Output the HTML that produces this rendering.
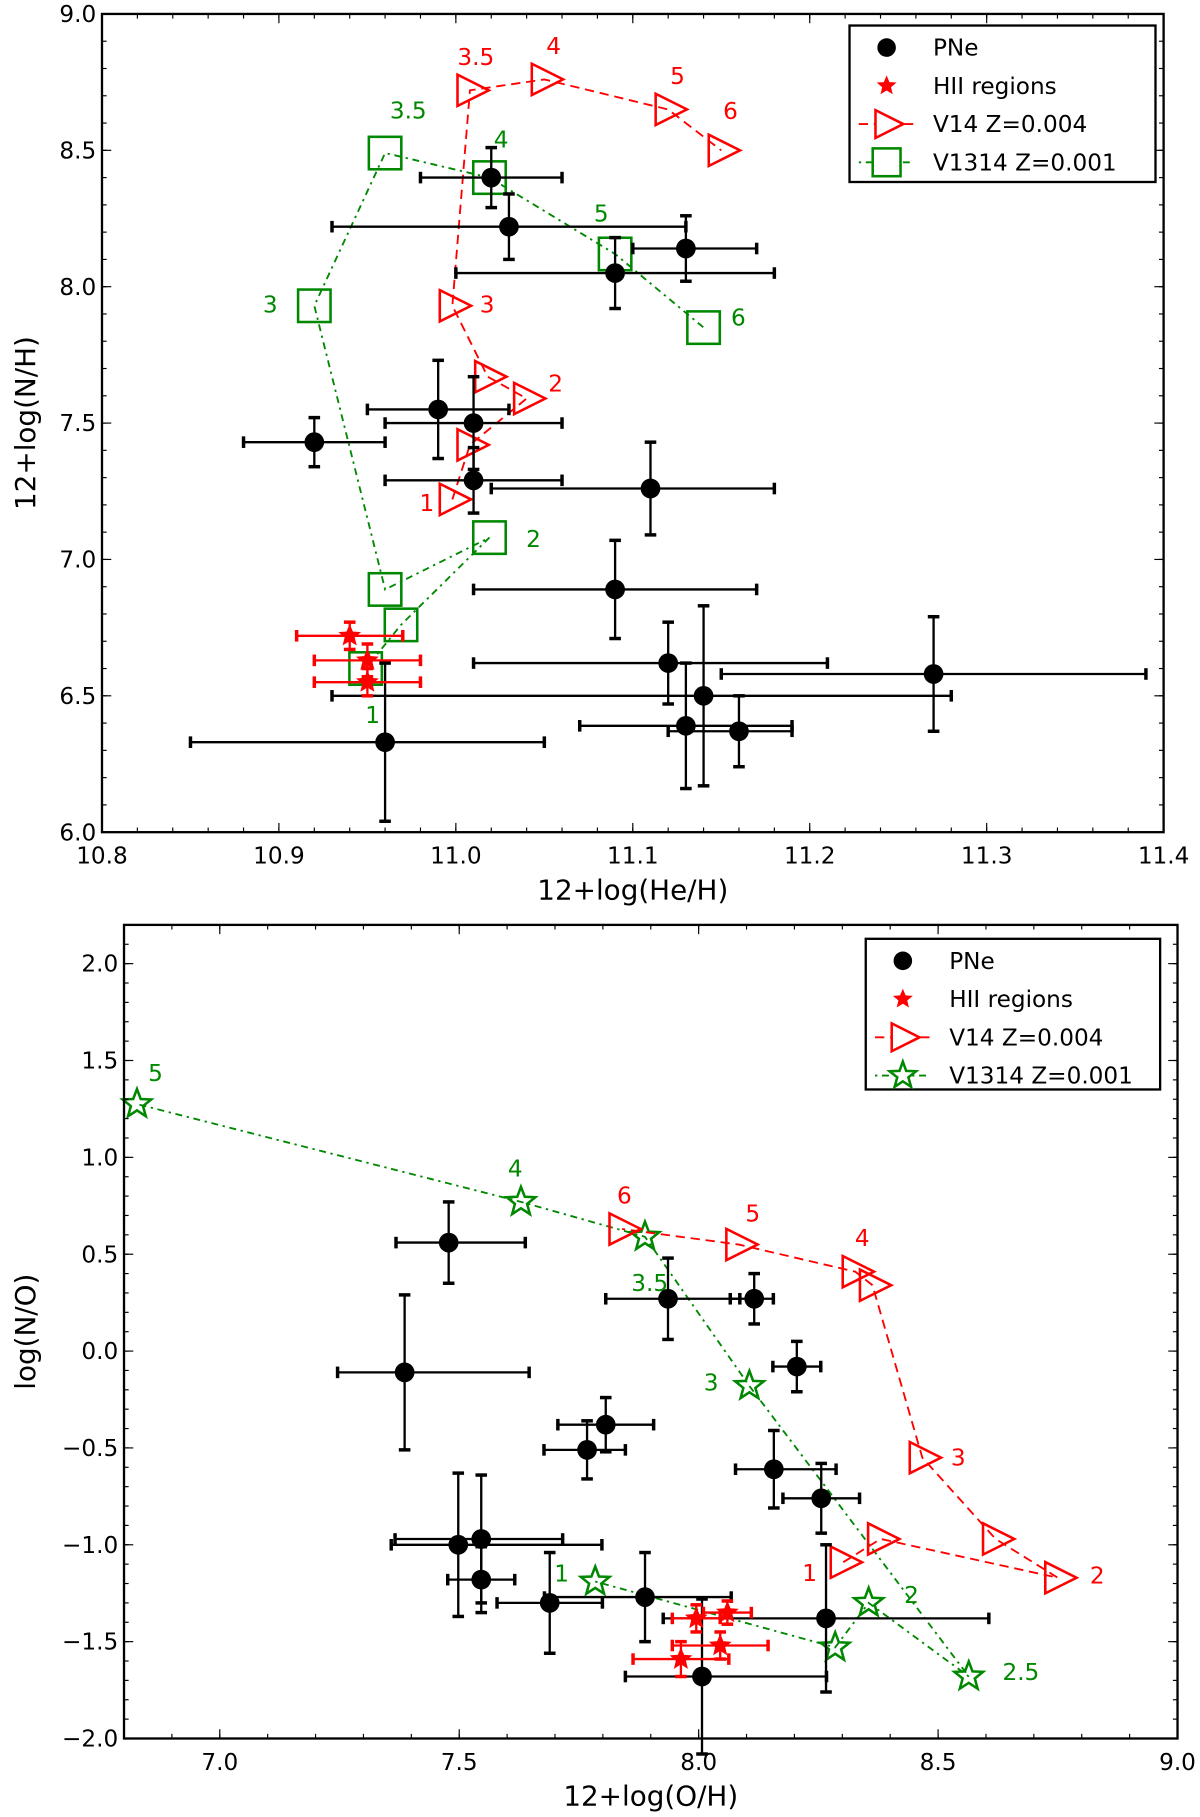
<!DOCTYPE html>
<html><head><meta charset="utf-8">
<style>
html,body{margin:0;padding:0;background:#fff;}
svg{display:block;font-family:"DejaVu Sans","Liberation Sans",sans-serif;}
</style></head>
<body>
<svg id="fig" width="1200" height="1817" viewBox="0 0 1035.4 1567.7" xmlns="http://www.w3.org/2000/svg"></svg>
<script>
// ---------- Top panel data ----------
const pneHe = [11.02,11.03,11.13,11.09,10.99,11.01,10.92,11.01,11.11,11.09,11.12,11.27,11.14,11.13,11.16,10.96];
const pneN = [8.40,8.22,8.14,8.05,7.55,7.50,7.43,7.29,7.26,6.89,6.62,6.58,6.50,6.39,6.37,6.33];
const pneHeErrLo = [0.04,0.10,0.03,0.09,0.04,0.05,0.04,0.05,0.09,0.08,0.11,0.12,0.21,0.06,0.04,0.11];
const pneHeErrHi = [0.04,0.10,0.04,0.09,0.04,0.05,0.04,0.05,0.07,0.08,0.09,0.12,0.14,0.06,0.03,0.09];
const pneNErr = [0.11,0.12,0.12,0.13,0.18,0.17,0.09,0.12,0.17,0.18,0.15,0.21,0.33,0.23,0.13,0.29];
const hiiHe = [10.94,10.95,10.95];
const hiiN = [6.72,6.63,6.55];
const hiiHeErr = [0.03,0.03,0.03];
const hiiNErr = [0.05,0.06,0.05];
const v14He = [10.998,11.008,11.04,11.018,10.998,11.008,11.05,11.12,11.15];
const v14N = [7.22,7.42,7.59,7.67,7.93,8.72,8.76,8.65,8.50];
const v14Lab = ["1","","2","","3","3.5","4","5","6"];
const v1314He = [10.949,10.969,11.019,10.960,10.92,10.960,11.019,11.09,11.14];
const v1314N = [6.60,6.76,7.08,6.89,7.93,8.49,8.40,8.12,7.85];
const v1314Lab = ["1","","2","","3","3.5","4","5","6"];
// ---------- Bottom panel data ----------
const pneO = [7.478,7.386,7.936,8.116,8.205,7.806,7.767,8.157,8.256,7.498,7.546,7.546,7.689,7.888,8.266,8.007];
const pneNO = [0.56,-0.11,0.27,0.27,-0.08,-0.38,-0.51,-0.61,-0.76,-1.00,-0.97,-1.18,-1.30,-1.27,-1.38,-1.68];
const pneOErrLo = [0.11,0.14,0.13,0.05,0.05,0.10,0.09,0.08,0.08,0.14,0.18,0.07,0.11,0.21,0.34,0.16];
const pneOErrHi = [0.16,0.26,0.15,0.04,0.05,0.10,0.08,0.13,0.08,0.30,0.17,0.07,0.11,0.18,0.34,0.26];
const pneNOErr = [0.21,0.40,0.21,0.13,0.13,0.14,0.15,0.20,0.18,0.37,0.33,0.17,0.26,0.23,0.38,0.40];
const hiiO = [7.995,8.06,8.045,7.963];
const hiiNO = [-1.38,-1.35,-1.52,-1.59];
const hiiOErr = [0.05,0.05,0.10,0.10];
const hiiNOErr = [0.07,0.06,0.07,0.09];
const bv14O = [8.302,8.38,8.75,8.62,8.467,8.363,8.327,8.084,7.84];
const bv14NO = [-1.09,-0.97,-1.17,-0.97,-0.55,0.34,0.41,0.55,0.63];
const bv14Lab = ["1","","2","","3","","4","5","6"];
const bv1314O = [7.784,8.285,8.355,8.564,8.106,7.888,7.629,6.827];
const bv1314NO = [-1.19,-1.53,-1.30,-1.68,-0.18,0.59,0.77,1.275];
const bv1314Lab = ["1","","2","2.5","3","3.5","4","5"];
// tick labels
const topXTicks = ["10.8","10.9","11.0","11.1","11.2","11.3","11.4"];
const topYTicks = ["6.0","6.5","7.0","7.5","8.0","8.5","9.0"];
const botXTicks = ["7.0","7.5","8.0","8.5","9.0"];
const botYTicks = ["−2.0","−1.5","−1.0","−0.5","0.0","0.5","1.0","1.5","2.0"];

const NS="http://www.w3.org/2000/svg";
const svg=document.getElementById('fig');
function mk(tag,attrs,parent){const e=document.createElementNS(NS,tag);for(const k in attrs)e.setAttribute(k,attrs[k]);(parent||svg).appendChild(e);return e;}

function makeAxes(box,xr,yr,name){
  const g=mk('g',{});
  
  
  const sx=v=>box.l+(v-xr[0])/(xr[1]-xr[0])*(box.r-box.l);
  const sy=v=>box.b-(v-yr[0])/(yr[1]-yr[0])*(box.b-box.t);
  return {g,sx,sy,box};
}
function drawFrame(ax,xMaj,xMin,yMaj,yMin,xLabs,yLabs,xTitle,yTitle,pfx){
  const {g,sx,sy,box}=ax;
  const fg=mk('g',{},g);
  
  
  xMin.forEach(v=>{const x=sx(v);mk('line',{x1:x,x2:x,y1:box.b,y2:box.b-4,stroke:'#000','stroke-width':1},fg);mk('line',{x1:x,x2:x,y1:box.t,y2:box.t+4,stroke:'#000','stroke-width':1},fg);});
  yMin.forEach(v=>{const y=sy(v);mk('line',{x1:box.l,x2:box.l+4,y1:y,y2:y,stroke:'#000','stroke-width':1},fg);mk('line',{x1:box.r,x2:box.r-4,y1:y,y2:y,stroke:'#000','stroke-width':1},fg);});
  xMaj.forEach((v,i)=>{const x=sx(v);mk('line',{x1:x,x2:x,y1:box.b,y2:box.b-8,stroke:'#000','stroke-width':1},fg);mk('line',{x1:x,x2:x,y1:box.t,y2:box.t+8,stroke:'#000','stroke-width':1},fg);
    const t=mk('text',{x:x,y:box.b+27,'font-size':20,'text-anchor':'middle'},fg);t.textContent=xLabs[i];
    });
  yMaj.forEach((v,i)=>{const y=sy(v);mk('line',{x1:box.l,x2:box.l+8,y1:y,y2:y,stroke:'#000','stroke-width':1},fg);mk('line',{x1:box.r,x2:box.r-8,y1:y,y2:y,stroke:'#000','stroke-width':1},fg);
    const t=mk('text',{x:box.l-5,y:y+7,'font-size':20,'text-anchor':'end'},fg);t.textContent=yLabs[i];
    });
  mk('rect',{x:box.l,y:box.t,width:box.r-box.l,height:box.b-box.t,fill:'none',stroke:'#000','stroke-width':2},fg);
  const xt=mk('text',{x:(box.l+box.r)/2,y:box.b+58,'font-size':24,'text-anchor':'middle'},g);xt.textContent=xTitle;
  
  const cy=(box.t+box.b)/2;
  const yt=mk('text',{x:0,y:0,'font-size':24,'text-anchor':'middle',transform:`translate(30,${cy}) rotate(-90)`},g);yt.textContent=yTitle;
  
}
function range(a,b,s){const r=[];for(let v=a;v<=b+1e-9;v+=s)r.push(+v.toFixed(4));return r;}
function starPts(cx,cy,R,r){let p=[];for(let i=0;i<10;i++){const a=-Math.PI/2+i*Math.PI/5;const rr=i%2?r:R;p.push((cx+rr*Math.cos(a)).toFixed(1)+','+(cy+rr*Math.sin(a)).toFixed(1));}return p.join(' ');}
function triPts(cx,cy,s){return `${cx-s*0.6},${cy-s*0.75} ${cx+s*0.9},${cy} ${cx-s*0.6},${cy+s*0.75}`;}
function errbar(g,x1,y1,x2,y2,col,vertical){
  mk('line',{x1,y1,x2,y2,stroke:col,'stroke-width':2},g);
  if(vertical){[y1,y2].forEach(y=>mk('line',{x1:x1-5,x2:x1+5,y1:y,y2:y,stroke:col,'stroke-width':3},g));}
  else{[x1,x2].forEach(x=>mk('line',{x1:x,x2:x,y1:y1-5,y2:y1+5,stroke:col,'stroke-width':3},g));}
}
function drawPoints(ax,xs,ys,xlo,xhi,yerr,kind,name){
  const {g,sx,sy}=ax;
  xs.forEach((v,i)=>{
    const pg=mk('g',{},g);
    
    
    const col=kind==='pne'?'#000':'#f00';
    const x=sx(v),y=sy(ys[i]);
    errbar(pg,sx(v-xlo[i]),y,sx(v+xhi[i]),y,col,false);
    errbar(pg,x,sy(ys[i]-yerr[i]),x,sy(ys[i]+yerr[i]),col,true);
    if(kind==='pne')mk('circle',{cx:x,cy:y,r:8.5,fill:'#000'},pg);
    else mk('polygon',{points:starPts(x,y,9,4),fill:'#f00',stroke:'#f00','stroke-width':1},pg);
  });
}
function drawModel(ax,xs,ys,labs,col,dash,marker,name,labOff){
  const {g,sx,sy}=ax;
  const mg=mk('g',{},g);
  
  
  const pts=xs.map((v,i)=>sx(v).toFixed(1)+','+sy(ys[i]).toFixed(1)).join(' ');
  const ln=mk('polyline',{points:pts,fill:'none',stroke:col,'stroke-width':1.6,'stroke-dasharray':dash},mg);
  
  
  xs.forEach((v,i)=>{
    const x=sx(v),y=sy(ys[i]);let m;
    if(marker==='tri')m=mk('polygon',{points:triPts(x,y,18),fill:'none',stroke:col,'stroke-width':2.2},mg);
    else if(marker==='sq')m=mk('rect',{x:x-14,y:y-14,width:28,height:28,fill:'none',stroke:col,'stroke-width':2.2},mg);
    else m=mk('polygon',{points:starPts(x,y,13,5.5),fill:'none',stroke:col,'stroke-width':2.2},mg);
    
    
    if(labs[i]){const o=labOff[i];const t=mk('text',{x:x+o[0],y:y+o[1],'font-size':20,fill:col,'text-anchor':'middle'},mg);t.textContent=labs[i];
      }
  });
}
function legend(ax,x,y,w,h,entries,pfx){
  const lg=mk('g',{},ax.g);
  
  
  mk('rect',{x,y,width:w,height:h,fill:'#fff',stroke:'#000','stroke-width':2},lg);
  entries.forEach((e,i)=>{
    const cy=y+19+i*33;const cx=x+32;
    const eg=mk('g',{},lg);
    
    
    if(e.k==='pne')mk('circle',{cx,cy,r:8,fill:'#000'},eg);
    else if(e.k==='hii')mk('polygon',{points:starPts(cx,cy,9,4),fill:'#f00'},eg);
    else{
      mk('line',{x1:x+8,x2:x+56,y1:cy,y2:cy,stroke:e.c,'stroke-width':1.6,'stroke-dasharray':e.d},eg);
      if(e.k==='tri')mk('polygon',{points:triPts(cx,cy,16),fill:'#fff',stroke:e.c,'stroke-width':2.2},eg);
      else if(e.k==='sq')mk('rect',{x:cx-12,y:cy-12,width:24,height:24,fill:'#fff',stroke:e.c,'stroke-width':2.2},eg);
      else mk('polygon',{points:starPts(cx,cy,12,5),fill:'#fff',stroke:e.c,'stroke-width':2.2},eg);
    }
    const t=mk('text',{x:x+72,y:cy+7,'font-size':20},eg);t.textContent=e.t;
  });
}
const entriesTop=[{k:'pne',t:'PNe'},{k:'hii',t:'HII regions'},{k:'tri',c:'#f00',d:'8,5',t:'V14 Z=0.004'},{k:'sq',c:'#080',d:'2,4,6,4',t:'V1314 Z=0.001'}];
const entriesBot=[{k:'pne',t:'PNe'},{k:'hii',t:'HII regions'},{k:'tri',c:'#f00',d:'8,5',t:'V14 Z=0.004'},{k:'star',c:'#080',d:'2,4,6,4',t:'V1314 Z=0.001'}];

// ---- Top panel ----
const A=makeAxes({l:88,r:1004,t:12,b:718},[10.8,11.4],[6,9],'top-panel');
drawModel(A,v1314He,v1314N,v1314Lab,'#080','2,4,6,4','sq','v1314-model-top',[[6,47],0,[38,8],0,[-38,6],[20,-30],[10,-26],[-12,-28],[30,-2]]);
drawModel(A,v14He,v14N,v14Lab,'#f00','8,5','tri','v14-model-top',[[-22,10],0,[25,-6],0,[30,6],[5,-22],[8,-22],[8,-22],[8,-27]]);
drawPoints(A,pneHe,pneN,pneHeErrLo,pneHeErrHi,pneNErr,'pne','pne-point-top');
drawPoints(A,hiiHe,hiiN,hiiHeErr,hiiHeErr,hiiNErr,'hii','hii-point-top');
drawFrame(A,range(10.8,11.4,0.1),range(10.8,11.4,0.02),range(6,9,0.5),range(6,9,0.1),topXTicks,topYTicks,'12+log(He/H)','12+log(N/H)','top');
legend(A,733,22,264,135,entriesTop,'top');

// ---- Bottom panel ----
const B=makeAxes({l:107,r:1016,t:798,b:1500},[6.8,9.0],[-2,2.2],'bottom-panel');
drawModel(B,bv1314O,bv1314NO,bv1314Lab,'#080','2,4,6,4','star','v1314-model-bottom',[[-29,0],0,[37,0],[45,3],[-33,4],[4,47],[-5,-22],[16,-20]]);
drawModel(B,bv14O,bv14NO,bv14Lab,'#f00','8,5','tri','v14-model-bottom',[[-29,16],0,[34,5],0,[31,7],0,[6,-22],[12,-20],[2,-22]]);
drawPoints(B,pneO,pneNO,pneOErrLo,pneOErrHi,pneNOErr,'pne','pne-point-bottom');
drawPoints(B,hiiO,hiiNO,hiiOErr,hiiOErr,hiiNOErr,'hii','hii-point-bottom');
drawFrame(B,range(7,9,0.5),range(6.8,9,0.1),range(-2,2,0.5),range(-2,2.2,0.1),botXTicks,botYTicks,'12+log(O/H)','log(N/O)','bottom');
legend(B,747,810,254,130,entriesBot,'bottom');
</script>
</body></html>
